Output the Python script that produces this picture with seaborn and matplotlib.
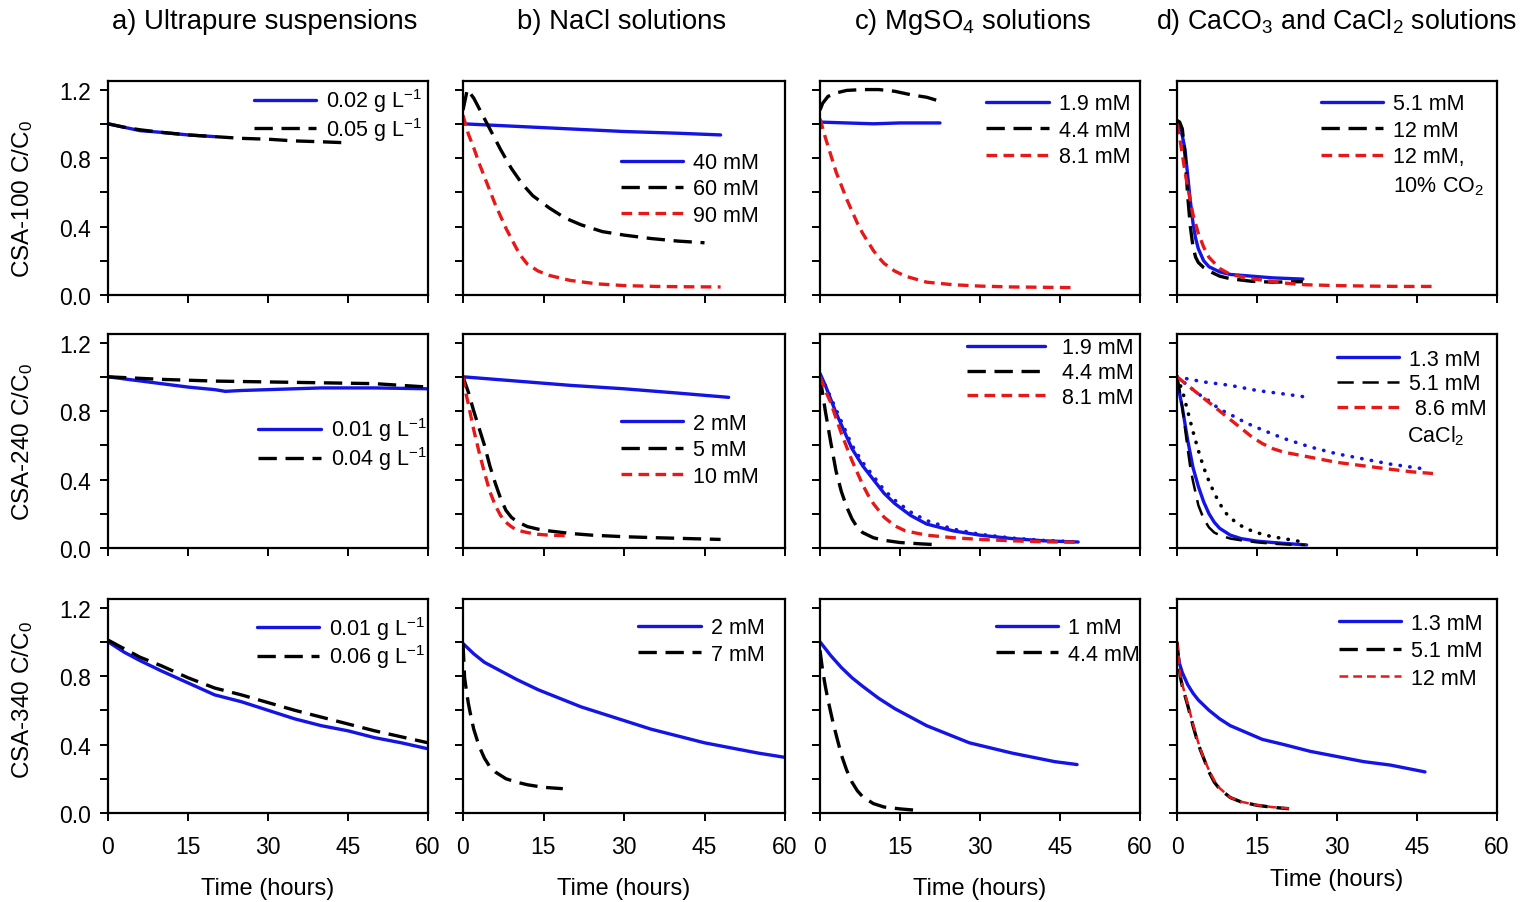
import matplotlib
matplotlib.use("Agg")
import matplotlib.pyplot as plt
from matplotlib.ticker import MultipleLocator
import seaborn as sns
import numpy as np

# ---------------- data ----------------
# Row 1 (CSA-100)
t_a1_002 = [0, 3, 6, 10, 15, 20]
y_a1_002 = [1.00, 0.98, 0.96, 0.95, 0.935, 0.925]
t_a1_005 = [0, 3, 6, 10, 15, 20, 25, 30, 35, 40, 44]
y_a1_005 = [1.00, 0.98, 0.965, 0.95, 0.935, 0.925, 0.915, 0.91, 0.90, 0.895, 0.89]

t_b1_40 = [0, 10, 20, 30, 40, 48]
y_b1_40 = [1.00, 0.985, 0.97, 0.955, 0.945, 0.935]
t_b1_60 = [0, 0.8, 2, 3.5, 5, 7, 9, 11, 13, 16, 19, 22, 26, 30, 35, 40, 45]
y_b1_60 = [1.08, 1.20, 1.15, 1.06, 0.97, 0.85, 0.74, 0.65, 0.58, 0.51, 0.45, 0.41, 0.37, 0.35, 0.33, 0.315, 0.305]
t_b1_90 = [0, 1, 2, 3, 4, 5, 6, 7, 8, 9, 10, 11, 12, 14, 16, 20, 25, 30, 36, 42, 48]
y_b1_90 = [1.05, 0.94, 0.86, 0.77, 0.69, 0.61, 0.53, 0.46, 0.39, 0.33, 0.27, 0.22, 0.18, 0.14, 0.115, 0.085, 0.065, 0.055, 0.05, 0.048, 0.047]

t_c1_19 = [0, 5, 10, 15, 20, 22.5]
y_c1_19 = [1.01, 1.005, 1.0, 1.005, 1.005, 1.005]
t_c1_44 = [0, 0.5, 1.5, 3, 5, 8, 11, 14, 17, 20, 22.7]
y_c1_44 = [1.08, 1.12, 1.16, 1.18, 1.195, 1.2, 1.2, 1.19, 1.17, 1.155, 1.13]
t_c1_81 = [0, 1, 2, 3, 4, 5, 6, 7, 8, 9, 10, 11, 12, 14, 16, 20, 25, 30, 36, 42, 48]
y_c1_81 = [1.03, 0.92, 0.82, 0.72, 0.64, 0.56, 0.49, 0.42, 0.36, 0.31, 0.26, 0.22, 0.185, 0.14, 0.11, 0.075, 0.06, 0.052, 0.047, 0.045, 0.043]

t_d1_51 = [0, 0.5, 1, 1.5, 2, 2.5, 3, 3.5, 4, 5, 6, 8, 10, 14, 18, 23.6]
y_d1_51 = [1.0, 0.98, 0.93, 0.85, 0.70, 0.55, 0.42, 0.33, 0.27, 0.20, 0.165, 0.135, 0.12, 0.11, 0.10, 0.093]
t_d1_12 = [0, 0.5, 1, 1.5, 2, 2.5, 3, 3.5, 4, 5, 6, 8, 10, 14, 18, 23.6]
y_d1_12 = [1.02, 1.01, 0.97, 0.82, 0.58, 0.40, 0.28, 0.22, 0.19, 0.16, 0.14, 0.11, 0.095, 0.08, 0.075, 0.078]
t_d1_12co2 = [0, 0.5, 1, 1.5, 2, 3, 4, 5, 6, 8, 10, 14, 20, 24, 30, 36, 42, 48]
y_d1_12co2 = [1.0, 0.92, 0.82, 0.72, 0.63, 0.47, 0.36, 0.28, 0.22, 0.155, 0.12, 0.095, 0.07, 0.06, 0.055, 0.052, 0.05, 0.05]

# Row 2 (CSA-240)
t_a2_001 = [0, 5, 10, 15, 20, 22, 25, 30, 40, 50, 60]
y_a2_001 = [1.0, 0.98, 0.96, 0.94, 0.925, 0.915, 0.92, 0.925, 0.935, 0.935, 0.93]
t_a2_004 = [0, 10, 20, 30, 40, 50, 55, 60]
y_a2_004 = [1.0, 0.985, 0.975, 0.97, 0.965, 0.96, 0.95, 0.94]

t_b2_2 = [0, 10, 20, 30, 40, 49.5]
y_b2_2 = [1.0, 0.975, 0.95, 0.93, 0.905, 0.88]
t_b2_5 = [0, 1, 2, 3, 4, 5, 6, 7, 8, 9, 10, 12, 14, 16, 20, 24, 30, 36, 42, 48]
y_b2_5 = [1.0, 0.91, 0.80, 0.70, 0.60, 0.48, 0.38, 0.29, 0.22, 0.18, 0.155, 0.125, 0.11, 0.10, 0.085, 0.075, 0.066, 0.06, 0.055, 0.05]
t_b2_10 = [0, 0.5, 1, 2, 3, 4, 5, 6, 7, 8, 9, 10, 12, 14, 16, 19]
y_b2_10 = [1.0, 0.91, 0.84, 0.69, 0.56, 0.44, 0.33, 0.25, 0.19, 0.15, 0.125, 0.105, 0.09, 0.08, 0.075, 0.072]

t_c2_19 = [0, 1, 2, 3, 4, 5, 6, 8, 10, 12, 14, 17, 20, 25, 30, 36, 42, 48.4]
y_c2_19 = [1.02, 0.95, 0.87, 0.79, 0.72, 0.65, 0.58, 0.48, 0.40, 0.32, 0.26, 0.19, 0.14, 0.10, 0.075, 0.055, 0.042, 0.035]
t_c2_19b = [0, 1, 2, 3, 4, 5, 6, 8, 10, 12, 14, 17, 20, 25, 30, 36, 42, 49]
y_c2_19b = [1.0, 0.95, 0.88, 0.81, 0.74, 0.67, 0.60, 0.50, 0.42, 0.34, 0.28, 0.21, 0.16, 0.11, 0.08, 0.058, 0.044, 0.035]
t_c2_44 = [0, 0.5, 1, 2, 3, 4, 5, 6, 7, 8, 10, 12, 15, 19, 21.5]
y_c2_44 = [1.0, 0.9, 0.8, 0.62, 0.45, 0.33, 0.24, 0.17, 0.12, 0.09, 0.06, 0.045, 0.032, 0.024, 0.02]
t_c2_81 = [0, 1, 2, 3, 4, 5, 6, 7, 8, 9, 10, 12, 14, 16, 20, 25, 30, 36, 42, 48.4]
y_c2_81 = [1.0, 0.92, 0.85, 0.76, 0.67, 0.59, 0.51, 0.44, 0.37, 0.31, 0.26, 0.18, 0.13, 0.10, 0.075, 0.06, 0.05, 0.042, 0.036, 0.033]

t_d2_dotA = [0, 5, 10, 15, 20, 24.6]
y_d2_dotA = [1.0, 0.97, 0.95, 0.92, 0.90, 0.88]
t_d2_dotB = [0, 2, 4, 6, 8, 10, 13, 16, 20, 25, 30, 35, 40, 46.8]
y_d2_dotB = [1.0, 0.95, 0.90, 0.86, 0.81, 0.78, 0.73, 0.69, 0.64, 0.59, 0.55, 0.52, 0.49, 0.46]
t_d2_86 = [0, 2, 4, 6, 8, 10, 12, 14, 16, 18, 20, 25, 30, 35, 40, 44, 48]
y_d2_86 = [1.0, 0.95, 0.90, 0.85, 0.80, 0.75, 0.70, 0.65, 0.61, 0.58, 0.56, 0.53, 0.50, 0.48, 0.46, 0.445, 0.435]
t_d2_13 = [0, 0.5, 1, 2, 3, 4, 5, 6, 7, 8, 10, 12, 15, 18, 21, 24.3]
y_d2_13 = [1.0, 0.90, 0.82, 0.63, 0.47, 0.36, 0.27, 0.20, 0.15, 0.115, 0.075, 0.055, 0.04, 0.032, 0.025, 0.018]
t_d2_51 = [0, 0.5, 1, 1.5, 2, 2.5, 3, 4, 5, 6, 7, 8, 10, 12, 15, 18, 21, 24]
y_d2_51 = [1.0, 0.92, 0.82, 0.70, 0.58, 0.47, 0.39, 0.25, 0.17, 0.12, 0.09, 0.075, 0.055, 0.045, 0.033, 0.025, 0.02, 0.018]
t_d2_dotK = [0, 1, 2, 3, 4, 5, 6, 7, 8, 9, 10, 12, 14, 16, 18, 20, 24]
y_d2_dotK = [1.0, 0.92, 0.80, 0.68, 0.57, 0.47, 0.39, 0.32, 0.26, 0.21, 0.175, 0.13, 0.10, 0.08, 0.065, 0.055, 0.033]

# Row 3 (CSA-340)
t_a3_001 = [0, 3, 6, 10, 15, 20, 25, 30, 35, 40, 45, 50, 55, 60]
y_a3_001 = [1.0, 0.94, 0.89, 0.83, 0.76, 0.69, 0.65, 0.60, 0.55, 0.51, 0.48, 0.44, 0.41, 0.375]
t_a3_006 = [0, 3, 6, 10, 15, 20, 25, 30, 35, 40, 45, 50, 55, 60]
y_a3_006 = [1.01, 0.96, 0.91, 0.86, 0.79, 0.73, 0.69, 0.645, 0.60, 0.56, 0.52, 0.48, 0.445, 0.41]

t_b3_2 = [0, 2, 4, 7, 10, 14, 18, 22, 26, 30, 35, 40, 45, 50, 55, 60]
y_b3_2 = [0.99, 0.93, 0.88, 0.83, 0.78, 0.72, 0.67, 0.62, 0.58, 0.54, 0.49, 0.45, 0.41, 0.38, 0.35, 0.325]
t_b3_7 = [0, 0.3, 0.7, 1, 1.5, 2, 3, 4, 5, 6, 7, 8, 10, 12, 15, 18.6]
y_b3_7 = [0.99, 0.79, 0.70, 0.64, 0.56, 0.49, 0.39, 0.32, 0.27, 0.24, 0.22, 0.20, 0.18, 0.165, 0.15, 0.142]

t_c3_1 = [0, 2, 4, 6, 8, 11, 14, 17, 20, 24, 28, 32, 36, 40, 44, 48.2]
y_c3_1 = [1.0, 0.92, 0.85, 0.79, 0.74, 0.67, 0.61, 0.56, 0.51, 0.46, 0.41, 0.38, 0.35, 0.325, 0.30, 0.283]
t_c3_44 = [0, 0.5, 1, 1.5, 2, 2.5, 3, 4, 5, 6, 7, 8, 10, 12, 15, 18]
y_c3_44 = [0.95, 0.83, 0.74, 0.66, 0.59, 0.52, 0.46, 0.34, 0.25, 0.18, 0.13, 0.095, 0.055, 0.035, 0.024, 0.016]

t_d3_13 = [0, 0.5, 1, 2, 3, 4, 5, 6, 8, 10, 13, 16, 20, 25, 30, 35, 40, 46.5]
y_d3_13 = [0.95, 0.87, 0.82, 0.75, 0.70, 0.66, 0.63, 0.60, 0.55, 0.51, 0.47, 0.43, 0.40, 0.36, 0.33, 0.30, 0.28, 0.24]
t_d3_51 = [0, 0.3, 0.6, 1, 2, 3, 4, 5, 6, 7, 8, 10, 12, 15, 18, 21]
y_d3_51 = [1.0, 0.90, 0.80, 0.74, 0.63, 0.51, 0.40, 0.32, 0.24, 0.18, 0.14, 0.09, 0.065, 0.045, 0.033, 0.025]
t_d3_12 = [0, 0.3, 0.6, 1, 2, 3, 4, 5, 6, 7, 8, 10, 12, 15, 18, 21]
y_d3_12 = [1.0, 0.92, 0.81, 0.75, 0.64, 0.52, 0.41, 0.32, 0.25, 0.19, 0.145, 0.09, 0.066, 0.046, 0.034, 0.026]

col_titles = ["a) Ultrapure suspensions", "b) NaCl solutions",
              "c) MgSO$_4$ solutions", "d) CaCO$_3$ and CaCl$_2$ solutions"]
row_labels = ["CSA-100 C/C$_0$", "CSA-240 C/C$_0$", "CSA-340 C/C$_0$"]
x_ticks = [0, 15, 30, 45, 60]
y_ticks = [0.0, 0.4, 0.8, 1.2]

# ---------------- styles ----------------
BLUE = "#1414e6"
RED = "#e81818"
STY = {
    "blue": dict(color=BLUE, linestyle="-", linewidth=2.4),
    "black": dict(color="black", linestyle=(0, (5.5, 2.6)), linewidth=2.4),
    "red": dict(color=RED, linestyle=(0, (3.2, 1.9)), linewidth=2.4),
    "red_thin": dict(color=RED, linestyle=(0, (3.5, 2.0)), linewidth=1.8),
    "black_thin": dict(color="black", linestyle=(0, (6.5, 3.5)), linewidth=1.8),
    "blue_dot": dict(color=BLUE, linestyle=(0, (0.1, 2.6)), linewidth=2.6, dash_capstyle="round"),
    "black_dot": dict(color="black", linestyle=(0, (0.1, 2.6)), linewidth=2.6, dash_capstyle="round"),
}

# panels: (row, col) -> list of (t, y, style, label)
panels = {
    (0, 0): [(t_a1_002, y_a1_002, "blue", "0.02 g L$^{-1}$"),
             (t_a1_005, y_a1_005, "black", "0.05 g L$^{-1}$")],
    (0, 1): [(t_b1_40, y_b1_40, "blue", "40 mM"),
             (t_b1_60, y_b1_60, "black", "60 mM"),
             (t_b1_90, y_b1_90, "red", "90 mM")],
    (0, 2): [(t_c1_19, y_c1_19, "blue", "1.9 mM"),
             (t_c1_44, y_c1_44, "black", "4.4 mM"),
             (t_c1_81, y_c1_81, "red", "8.1 mM")],
    (0, 3): [(t_d1_51, y_d1_51, "blue", "5.1 mM"),
             (t_d1_12, y_d1_12, "black", "12 mM"),
             (t_d1_12co2, y_d1_12co2, "red", "12 mM,")],
    (1, 0): [(t_a2_001, y_a2_001, "blue", "0.01 g L$^{-1}$"),
             (t_a2_004, y_a2_004, "black", "0.04 g L$^{-1}$")],
    (1, 1): [(t_b2_2, y_b2_2, "blue", "2 mM"),
             (t_b2_5, y_b2_5, "black", "5 mM"),
             (t_b2_10, y_b2_10, "red", "10 mM")],
    (1, 2): [(t_c2_19b, y_c2_19b, "blue_dot", None),
             (t_c2_19, y_c2_19, "blue", "1.9 mM"),
             (t_c2_44, y_c2_44, "black", "4.4 mM"),
             (t_c2_81, y_c2_81, "red", "8.1 mM")],
    (1, 3): [(t_d2_dotA, y_d2_dotA, "blue_dot", None),
             (t_d2_dotB, y_d2_dotB, "blue_dot", None),
             (t_d2_dotK, y_d2_dotK, "black_dot", None),
             (t_d2_13, y_d2_13, "blue", "1.3 mM"),
             (t_d2_51, y_d2_51, "black_thin", "5.1 mM"),
             (t_d2_86, y_d2_86, "red", " 8.6 mM")],
    (2, 0): [(t_a3_001, y_a3_001, "blue", "0.01 g L$^{-1}$"),
             (t_a3_006, y_a3_006, "black", "0.06 g L$^{-1}$")],
    (2, 1): [(t_b3_2, y_b3_2, "blue", "2 mM"),
             (t_b3_7, y_b3_7, "black", "7 mM")],
    (2, 2): [(t_c3_1, y_c3_1, "blue", "1 mM"),
             (t_c3_44, y_c3_44, "black", "4.4 mM")],
    (2, 3): [(t_d3_13, y_d3_13, "blue", "1.3 mM"),
             (t_d3_51, y_d3_51, "black", "5.1 mM"),
             (t_d3_12, y_d3_12, "red_thin", "12 mM")],
}

# legend anchors (axes fraction, upper-left of legend) and row spacing
leg_pos = {
    (0, 0): (0.455, 0.975), (0, 1): (0.49, 0.668), (0, 2): (0.52, 0.942), (0, 3): (0.45, 0.942),
    (1, 0): (0.47, 0.62), (1, 1): (0.49, 0.631), (1, 2): (0.46, 0.985), (1, 3): (0.50, 0.932),
    (2, 0): (0.465, 0.93), (2, 1): (0.545, 0.915), (2, 2): (0.55, 0.915), (2, 3): (0.505, 0.935),
}
leg_spacing = {
    (0, 0): 0.02, (1, 0): 0.06, (2, 0): 0.02, (1, 2): 0.18, (1, 3): 0.18, (2, 3): 0.3,
}
extra_text = {
    (0, 3): ("10% CO$_2$", 0.675, 0.51),
    (1, 3): ("CaCl$_2$", 0.72, 0.525),
}
ylabel_y = [0.453, 0.5, 0.533]

# ---------------- figure ----------------
sns.set_theme(style="ticks")
plt.rcParams["font.family"] = ["Liberation Sans", "DejaVu Sans"]
plt.rcParams["mathtext.fontset"] = "custom"
plt.rcParams["mathtext.rm"] = "Liberation Sans"
plt.rcParams["mathtext.it"] = "Liberation Sans:italic"
plt.rcParams["mathtext.bf"] = "Liberation Sans:bold"
for k in ["text.color", "axes.labelcolor", "xtick.color", "ytick.color", "axes.edgecolor"]:
    plt.rcParams[k] = "black"

FS = 15.5
TICK_FS = 16.5
fig = plt.figure(figsize=(15.24, 9.03), dpi=100)
W, H = 1524.0, 903.0
col_left = [108, 463, 820, 1177]
col_w = [320, 322, 320, 320]
row_bottom = [296, 549, 814]
row_h = 214

for (r, c), series in panels.items():
    ax = fig.add_axes([col_left[c] / W, 1 - row_bottom[r] / H, col_w[c] / W, row_h / H])
    handles = []
    for t, y, sty, lab in series:
        sns.lineplot(x=np.asarray(t, float), y=np.asarray(y, float), ax=ax,
                     estimator=None, sort=False, legend=False, **STY[sty])
        if lab is not None:
            ln = ax.lines[-1]
            ln.set_label(lab)
            handles.append(ln)
    ax.set_xlim(0, 60)
    ax.set_ylim(0, 1.25)
    ax.set_xticks(x_ticks)
    ax.set_yticks(y_ticks)
    ax.yaxis.set_minor_locator(MultipleLocator(0.2))
    for s in ax.spines.values():
        s.set_visible(True)
        s.set_linewidth(1.6)
        s.set_color("black")
    ax.tick_params(axis="both", which="both", direction="out", length=5.5, width=1.4,
                   color="black", labelsize=TICK_FS, labelcolor="black")
    ax.tick_params(axis="x", pad=10)
    ax.tick_params(axis="y", pad=7)
    if c == 0:
        ax.set_yticklabels([f"{v:.1f}" for v in y_ticks])
        ax.set_ylabel(row_labels[r], fontsize=17.5)
        ax.yaxis.set_label_coords(-0.228, ylabel_y[r])
    else:
        ax.set_yticklabels([])
        ax.set_ylabel("")
    if r == 2:
        ax.set_xticklabels([str(v) for v in x_ticks])
        ax.set_xlabel("Time (hours)", fontsize=17)
        ax.xaxis.set_label_coords(0.5, -0.30 if c < 3 else -0.255)
    else:
        ax.set_xticklabels([])
        ax.set_xlabel("")
    ax.set_facecolor("white")
    ax.grid(False)
    hl = 3.6 if (r, c) == (1, 2) else 2.9
    htp = 0.8 if (r, c) == (1, 2) else 0.45
    ls = leg_spacing.get((r, c), 0.25)
    ax.legend(handles=handles, loc="upper left", bbox_to_anchor=leg_pos[(r, c)],
              frameon=False, fontsize=FS, handlelength=hl, handletextpad=htp,
              labelspacing=ls, borderpad=0, borderaxespad=0)
    if (r, c) in extra_text:
        txt, xx, yy = extra_text[(r, c)]
        ax.text(xx, yy, txt, transform=ax.transAxes, fontsize=FS, va="center", ha="left")

title_x = [265, 622, 973, 1332]
for c, tt in enumerate(col_titles):
    if c < 3:
        fig.text(title_x[c] / W, 1 - 22 / H, tt, ha="center", va="center", fontsize=19.8)
    else:
        fig.text(1517 / W, 1 - 22 / H, tt, ha="right", va="center", fontsize=19.3)

fig.savefig("out.png", dpi=100, facecolor="white")
